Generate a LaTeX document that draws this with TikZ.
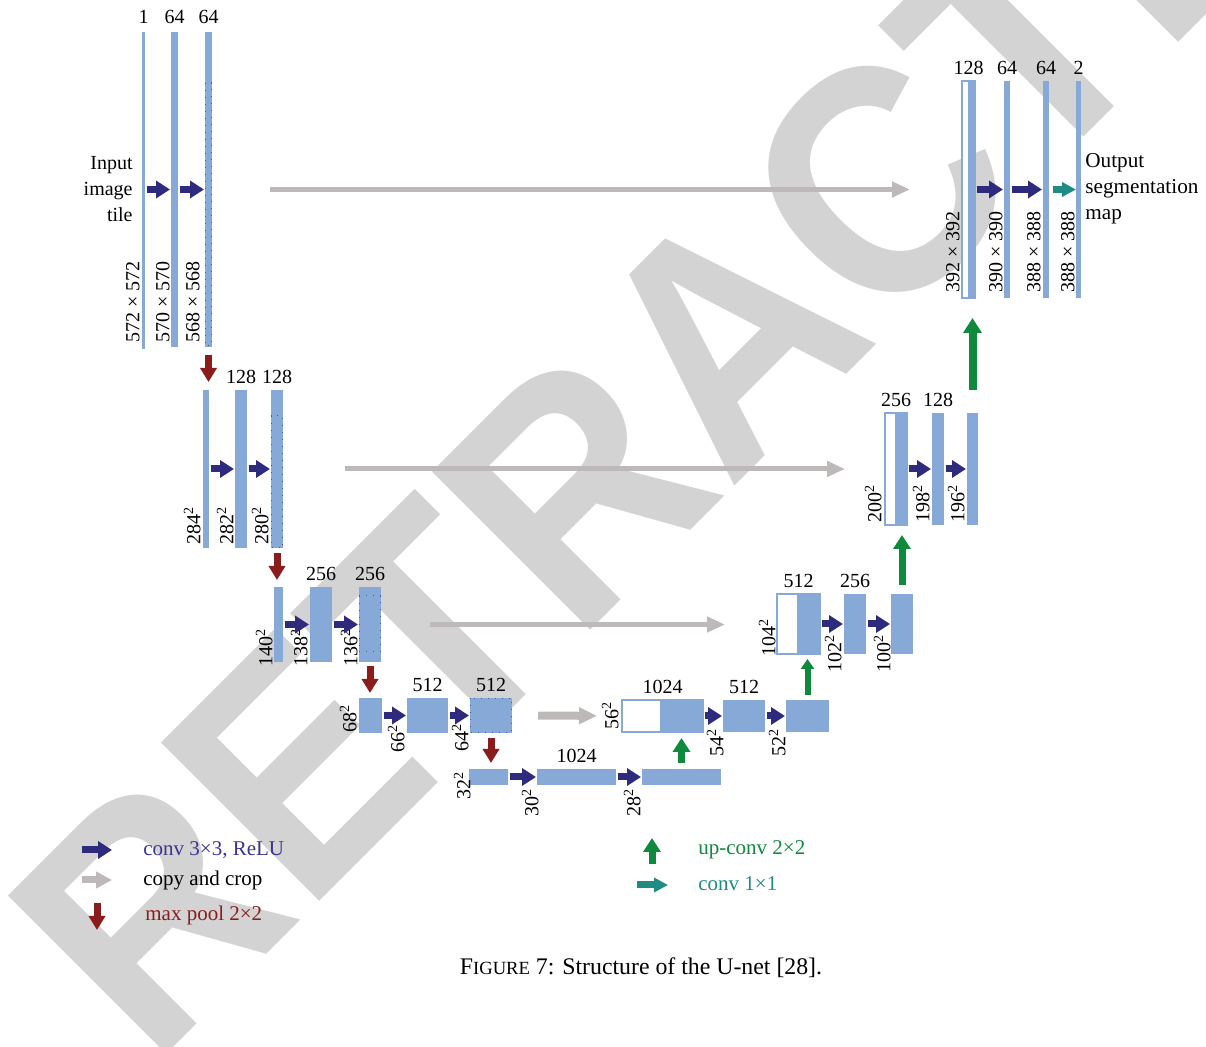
\documentclass[tikz,border=0pt]{standalone}
\usepackage{fontspec}
\setmainfont{Liberation Serif}
\newfontfamily\stampfont{Liberation Sans}
\usepackage{graphicx}
\usepackage{tikz}
\usetikzlibrary{arrows.meta,positioning,fit}

\definecolor{unetblue}{RGB}{134,169,216}
\definecolor{cropdot}{RGB}{60,90,175}
\definecolor{convnavy}{RGB}{46,42,125}
\definecolor{convtext}{RGB}{58,52,145}
\definecolor{copygray}{RGB}{189,185,185}
\definecolor{poolred}{RGB}{139,28,28}
\definecolor{upgreen}{RGB}{14,138,60}
\definecolor{segteal}{RGB}{30,140,130}
\definecolor{stampgray}{RGB}{211,211,211}

\tikzset{
bar/.style={
  fill=unetblue,
  inner sep=0pt,
  outer sep=0pt,
  }
}
\tikzset{
cropbar/.style={
  draw=unetblue,
  fill=white,
  line width=0.8pt,
  inner sep=0pt,
  outer sep=0pt,
  }
}
\tikzset{
cropline/.style={
  draw=cropdot,
  line width=0.5pt,
  dash pattern=on 0.5pt off 3pt,
  }
}
\tikzset{
chan/.style={
  inner sep=0pt,
  }
}
\tikzset{
dims/.style={
  rotate=90,
  anchor=south west,
  inner sep=0pt,
  }
}
\tikzset{
legendtext/.style={
  anchor=west,
  inner sep=0pt,
  font=\fontsize{10.5}{13}\selectfont,
  }
}
\tikzset{
stamp/.style={
  rotate=45,
  anchor=base west,
  inner sep=0pt,
  text=stampgray,
  font=\stampfont\bfseries\fontsize{162.7}{162.7}\selectfont,
  }
}
\tikzset{
convline/.style={
  draw=convnavy,
  line width=3.5pt,
  shorten <=0.75pt,
  shorten >=0.5pt,
  -{Triangle[length=7pt,width=8.5pt]}
  }
}
\tikzset{
copyline/.style={
  draw=copygray,
  line width=2.5pt,
  -{Triangle[length=9pt,width=7.5pt]}
  }
}
\tikzset{
poolline/.style={
  draw=poolred,
  line width=3.5pt,
  -{Triangle[length=7pt,width=8pt]}
  }
}
\tikzset{
upline/.style={
  draw=upgreen,
  line width=3.5pt,
  -{Triangle[length=7pt,width=8.5pt]}
  }
}
\tikzset{
segline/.style={
  draw=segteal,
  line width=3.5pt,
  shorten <=2pt,
  -{Triangle[length=7pt,width=7pt]}
  }
}

\begin{document}
\begin{tikzpicture}[x=0.5pt, y=-0.5pt, font=\fontsize{10}{13}\selectfont]
    \path[use as bounding box] (0,0) rectangle (1206,1047);

    % watermark
    \begin{scope}
    \clip (0,0) rectangle (1206,1047);
    \node[stamp] (stamp) at (152.6,1068.4) {\scalebox{0.92}[1]{RETRACTED}};
    \end{scope}

    % contracting path, level 1
    \node[bar, fit={(142,32) (145,349)}] (b11) {};
    \node[bar, fit={(171,32) (178,347)}] (b12) {};
    \node[bar, fit={(205,32) (212,347)}] (b13) {};
    \draw[cropline] (205,83) rectangle (211.5,346);
    \node[chan, above=4pt of b11] (c11) {1};
    \node[chan, above=4pt of b12] (c12) {64};
    \node[chan, above=4pt of b13] (c13) {64};
    \node[dims] (d11) at (140,343) {572 × 572};
    \node[dims] (d12) at (170,343) {570 × 570};
    \node[dims] (d13) at (200,343) {568 × 568};
    \node[align=right, anchor=east, inner sep=0pt] (intile) at (133,189) {Input\\image\\tile};

    % contracting path, level 2
    \node[bar, fit={(203,390) (209,548)}] (b21) {};
    \node[bar, fit={(235,390) (247,548)}] (b22) {};
    \node[bar, fit={(271,390) (283,548)}] (b23) {};
    \draw[cropline] (271,416) rectangle (282.7,548);
    \node[chan, above=3pt of b22] (c22) {128};
    \node[chan, above=3pt of b23] (c23) {128};
    \node[dims] (d21) at (201,545) {284\textsuperscript{2}};
    \node[dims] (d22) at (234,545) {282\textsuperscript{2}};
    \node[dims] (d23) at (269,545) {280\textsuperscript{2}};

    % contracting path, level 3
    \node[bar, fit={(274,587) (283,662)}] (b31) {};
    \node[bar, fit={(310,587) (332,662)}] (b32) {};
    \node[bar, fit={(359,587) (381,662)}] (b33) {};
    \draw[cropline] (359.3,596) rectangle (380.7,652);
    \node[chan, above=3pt of b32] (c32) {256};
    \node[chan, above=3pt of b33] (c33) {256};
    \node[dims] (d31) at (273,667) {140\textsuperscript{2}};
    \node[dims] (d32) at (308,667) {138\textsuperscript{2}};
    \node[dims] (d33) at (358,667) {136\textsuperscript{2}};

    % contracting path, level 4
    \node[bar, fit={(359,698) (382,733)}] (b41) {};
    \node[bar, fit={(407,698) (448,733)}] (b42) {};
    \node[bar, fit={(470,698) (512,733)}] (b43) {};
    \draw[cropline] (470.3,698.3) rectangle (511.7,732.7);
    \node[chan, above=3pt of b42] (c42) {512};
    \node[chan, above=3pt of b43] (c43) {512};
    \node[dims] (d41) at (357,733) {68\textsuperscript{2}};
    \node[dims] (d42) at (405,753) {66\textsuperscript{2}};
    \node[dims] (d43) at (469,752) {64\textsuperscript{2}};

    % bottom level
    \node[bar, fit={(469,769) (508,785)}] (b51) {};
    \node[bar, fit={(537,769) (616,785)}] (b52) {};
    \node[bar, fit={(642,769) (721,785)}] (b53) {};
    \node[chan, above=3pt of b52] (c52) {1024};
    \node[dims] (d51) at (471,800) {32\textsuperscript{2}};
    \node[dims] (d52) at (539,817) {30\textsuperscript{2}};
    \node[dims] (d53) at (641,817) {28\textsuperscript{2}};

    % expansive path, level 4
    \node[cropbar, fit={(622,700) (703,732)}] (r41) {};
    \node[bar, fit={(660,700) (703,732)}] (r41f) {};
    \node[bar, fit={(723,700) (765,732)}] (r42) {};
    \node[bar, fit={(786,700) (829,732)}] (r43) {};
    \node[chan, above=3pt of r41] (e41) {1024};
    \node[chan, above=3pt of r42] (e42) {512};
    \node[dims] (f41) at (619,730) {56\textsuperscript{2}};
    \node[dims] (f42) at (724,757) {54\textsuperscript{2}};
    \node[dims] (f43) at (786,757) {52\textsuperscript{2}};

    % expansive path, level 3
    \node[cropbar, fit={(777,594) (820,654)}] (r31) {};
    \node[bar, fit={(797,594) (820,654)}] (r31f) {};
    \node[bar, fit={(844,594) (866,654)}] (r32) {};
    \node[bar, fit={(891,594) (913,654)}] (r33) {};
    \node[chan, above=3pt of r31] (e31) {512};
    \node[chan, above=3pt of r32] (e32) {256};
    \node[dims] (f31) at (776,657) {104\textsuperscript{2}};
    \node[dims] (f32) at (842,673) {102\textsuperscript{2}};
    \node[dims] (f33) at (891,673) {100\textsuperscript{2}};

    % expansive path, level 2
    \node[cropbar, fit={(885,413) (907,525)}] (r21) {};
    \node[bar, fit={(895,413) (907,525)}] (r21f) {};
    \node[bar, fit={(932,413) (944,525)}] (r22) {};
    \node[bar, fit={(967,413) (978,525)}] (r23) {};
    \node[chan, above=3pt of r21] (e21) {256};
    \node[chan, above=3pt of r22] (e22) {128};
    \node[dims] (f21) at (882,523) {200\textsuperscript{2}};
    \node[dims] (f22) at (930,523) {198\textsuperscript{2}};
    \node[dims] (f23) at (965,523) {196\textsuperscript{2}};

    % expansive path, level 1
    \node[cropbar, fit={(962,81) (975,298)}] (r11) {};
    \node[bar, fit={(968,81) (975,298)}] (r11f) {};
    \node[bar, fit={(1004,81) (1010,298)}] (r12) {};
    \node[bar, fit={(1043,81) (1049,298)}] (r13) {};
    \node[bar, fit={(1076,81) (1081,298)}] (r14) {};
    \node[chan, above=3pt of r11] (e11) {128};
    \node[chan, above=3pt of r12] (e12) {64};
    \node[chan, above=3pt of r13] (e13) {64};
    \node[chan, above=3pt of r14] (e14) {2};
    \node[dims] (f11) at (960,293) {392 × 392};
    \node[dims] (f12) at (1003,293) {390 × 390};
    \node[dims] (f13) at (1041,293) {388 × 388};
    \node[dims] (f14) at (1075,293) {388 × 388};
    \node[align=left, anchor=west, inner sep=0pt, font=\fontsize{10.6}{13}\selectfont] (outmap) at (1085,189) {Output\\segmentation\\map};

    % conv edges
    \draw[convline] (b11.east |- b12) -- (b12);
    \draw[convline] (b12) -- (b13);
    \draw[convline] (b21) -- (b22);
    \draw[convline] (b22) -- (b23);
    \draw[convline] (b31) -- (b32);
    \draw[convline] (b32) -- (b33);
    \draw[convline] (b41) -- (b42);
    \draw[convline] (b42) -- (b43);
    \draw[convline] (b51) -- (b52);
    \draw[convline] (b52) -- (b53);
    \draw[convline] (r41) -- (r42);
    \draw[convline] (r42) -- (r43);
    \draw[convline] (r31) -- (r32);
    \draw[convline] (r32) -- (r33);
    \draw[convline] (r21) -- (r22);
    \draw[convline] (r22) -- (r23);
    \draw[convline] (r11) -- (r12);
    \draw[convline] (r12) -- (r13);
    \draw[segline] (r13) -- (r14);

    % copy edges
    \draw[copyline, shorten <=29pt, shorten >=26pt] (b13) -- (r11);
    \draw[copyline, shorten <=31pt, shorten >=20pt] (b23) -- (r21);
    \draw[copyline, shorten <=24.5pt, shorten >=26pt] (b33) -- (r31.west |- b33);
    \draw[copyline, line width=4pt, -{Triangle[length=9pt,width=8pt]}, shorten <=13pt, shorten >=12.5pt] (b43) -- (r41);

    % pool edges
    \draw[poolline, shorten <=4pt, shorten >=4pt] (b13.south) -- (b13.south |- b21.north);
    \draw[poolline, shorten <=2.5pt, shorten >=3.5pt] (b23.south) -- (b23.south |- b31.north);
    \draw[poolline, shorten <=2pt, shorten >=2.5pt] (b33.south) -- (b33.south |- b41.north);
    \draw[poolline, shorten <=2.5pt, shorten >=3pt] (b43.south) -- (b43.south |- b51.north);

    % up-conv edges
    \draw[upline, shorten <=3pt, shorten >=3pt] (b53.north) -- (b53.north |- r41.south);
    \draw[upline, line width=3pt, -{Triangle[length=5pt,width=6.5pt]}, shorten <=2.5pt, shorten >=2.5pt] (r43.north) -- (r43.north |- r31.south);
    \draw[upline, shorten <=4.5pt, shorten >=5pt] (r33.north) -- (r33.north |- r21.south);
    \draw[upline, line width=4pt, -{Triangle[length=7.5pt,width=9pt]}, shorten <=11.5pt, shorten >=10pt] (r23.north) -- (r23.north |- r11.south);

    % legend
    \coordinate (lconv0) at (82,850);
    \coordinate (lconv1) at (112,850);
    \coordinate (lcopy0) at (82,880);
    \coordinate (lcopy1) at (112,880);
    \coordinate (lpool0) at (97,903);
    \coordinate (lpool1) at (97,930);
    \coordinate (lup0) at (652,864);
    \coordinate (lup1) at (652,838);
    \coordinate (lseg0) at (637,885);
    \coordinate (lseg1) at (668,885);
    \draw[convline, shorten <=0pt, shorten >=0pt] (lconv0) -- (lconv1);
    \draw[copyline, line width=3.5pt, -{Triangle[length=8pt,width=8pt]}] (lcopy0) -- (lcopy1);
    \draw[poolline] (lpool0) -- (lpool1);
    \draw[upline] (lup0) -- (lup1);
    \draw[segline, shorten <=0pt] (lseg0) -- (lseg1);
    \node[legendtext, text=convtext] (tconv) at (143,850) {conv 3×3, ReLU};
    \node[legendtext] (tcopy) at (143,880) {copy and crop};
    \node[legendtext, text=poolred] (tpool) at (145,915) {max pool 2×2};
    \node[legendtext, text=upgreen] (tup) at (698,850) {up-conv 2×2};
    \node[legendtext, text=segteal] (tseg) at (698,884) {conv 1×1};

    % caption
    \node[font=\fontsize{11.9}{14}\selectfont] (caption) at (641,968) {F{\fontsize{9.3}{11}\selectfont IGURE} 7: Structure of the U-net [28].};
\end{tikzpicture}
\end{document}
